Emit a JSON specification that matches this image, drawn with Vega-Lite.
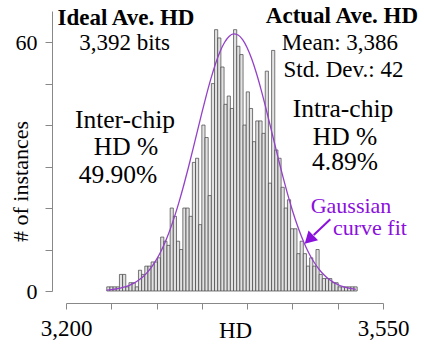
{
  "$schema": "https://vega.github.io/schema/vega-lite/v6.json",
  "width": 317,
  "height": 280,
  "autosize": {"type": "none"},
  "padding": {"left": 66, "top": 11, "right": 41, "bottom": 54},
  "background": "white",
  "config": {"view": {"stroke": null}, "font": "Liberation Serif"},
  "datasets": {
    "bars": [
      {"hd_start": 3245, "hd_end": 3248.5, "count": 1},
      {"hd_start": 3248.5, "hd_end": 3252, "count": 1},
      {"hd_start": 3252, "hd_end": 3255.5, "count": 1},
      {"hd_start": 3255.5, "hd_end": 3259, "count": 1},
      {"hd_start": 3259, "hd_end": 3262.5, "count": 4},
      {"hd_start": 3262.5, "hd_end": 3266, "count": 4},
      {"hd_start": 3266, "hd_end": 3269.5, "count": 1},
      {"hd_start": 3269.5, "hd_end": 3273, "count": 2},
      {"hd_start": 3273, "hd_end": 3276.5, "count": 2},
      {"hd_start": 3276.5, "hd_end": 3280, "count": 1},
      {"hd_start": 3280, "hd_end": 3283.5, "count": 5},
      {"hd_start": 3283.5, "hd_end": 3287, "count": 4},
      {"hd_start": 3287, "hd_end": 3290.5, "count": 6},
      {"hd_start": 3290.5, "hd_end": 3294, "count": 6},
      {"hd_start": 3294, "hd_end": 3297.5, "count": 7},
      {"hd_start": 3297.5, "hd_end": 3301, "count": 7},
      {"hd_start": 3301, "hd_end": 3304.5, "count": 8},
      {"hd_start": 3304.5, "hd_end": 3308, "count": 13},
      {"hd_start": 3308, "hd_end": 3311.5, "count": 12},
      {"hd_start": 3311.5, "hd_end": 3315, "count": 11},
      {"hd_start": 3315, "hd_end": 3318.5, "count": 20},
      {"hd_start": 3318.5, "hd_end": 3322, "count": 18},
      {"hd_start": 3322, "hd_end": 3325.5, "count": 12},
      {"hd_start": 3325.5, "hd_end": 3329, "count": 10},
      {"hd_start": 3329, "hd_end": 3332.5, "count": 20},
      {"hd_start": 3332.5, "hd_end": 3336, "count": 20},
      {"hd_start": 3336, "hd_end": 3339.5, "count": 18},
      {"hd_start": 3339.5, "hd_end": 3343, "count": 31},
      {"hd_start": 3343, "hd_end": 3346.5, "count": 32},
      {"hd_start": 3346.5, "hd_end": 3350, "count": 16},
      {"hd_start": 3350, "hd_end": 3353.5, "count": 40},
      {"hd_start": 3353.5, "hd_end": 3357, "count": 37},
      {"hd_start": 3357, "hd_end": 3360.5, "count": 23},
      {"hd_start": 3360.5, "hd_end": 3364, "count": 50},
      {"hd_start": 3364, "hd_end": 3367.5, "count": 63},
      {"hd_start": 3367.5, "hd_end": 3371, "count": 61},
      {"hd_start": 3371, "hd_end": 3374.5, "count": 54},
      {"hd_start": 3374.5, "hd_end": 3378, "count": 45},
      {"hd_start": 3378, "hd_end": 3381.5, "count": 47},
      {"hd_start": 3381.5, "hd_end": 3385, "count": 44},
      {"hd_start": 3385, "hd_end": 3388.5, "count": 63},
      {"hd_start": 3388.5, "hd_end": 3392, "count": 59},
      {"hd_start": 3392, "hd_end": 3395.5, "count": 57},
      {"hd_start": 3395.5, "hd_end": 3399, "count": 40},
      {"hd_start": 3399, "hd_end": 3402.5, "count": 48},
      {"hd_start": 3402.5, "hd_end": 3406, "count": 44},
      {"hd_start": 3406, "hd_end": 3409.5, "count": 36},
      {"hd_start": 3409.5, "hd_end": 3413, "count": 41},
      {"hd_start": 3413, "hd_end": 3416.5, "count": 41},
      {"hd_start": 3416.5, "hd_end": 3420, "count": 38},
      {"hd_start": 3420, "hd_end": 3423.5, "count": 53},
      {"hd_start": 3423.5, "hd_end": 3427, "count": 26},
      {"hd_start": 3427, "hd_end": 3430.5, "count": 58},
      {"hd_start": 3430.5, "hd_end": 3434, "count": 34},
      {"hd_start": 3434, "hd_end": 3437.5, "count": 32},
      {"hd_start": 3437.5, "hd_end": 3441, "count": 25},
      {"hd_start": 3441, "hd_end": 3444.5, "count": 20},
      {"hd_start": 3444.5, "hd_end": 3448, "count": 22},
      {"hd_start": 3448, "hd_end": 3451.5, "count": 15},
      {"hd_start": 3451.5, "hd_end": 3455, "count": 15},
      {"hd_start": 3455, "hd_end": 3458.5, "count": 9},
      {"hd_start": 3458.5, "hd_end": 3462, "count": 12},
      {"hd_start": 3462, "hd_end": 3465.5, "count": 9},
      {"hd_start": 3465.5, "hd_end": 3469, "count": 6},
      {"hd_start": 3469, "hd_end": 3472.5, "count": 8},
      {"hd_start": 3472.5, "hd_end": 3476, "count": 6},
      {"hd_start": 3476, "hd_end": 3479.5, "count": 10},
      {"hd_start": 3479.5, "hd_end": 3483, "count": 4},
      {"hd_start": 3483, "hd_end": 3486.5, "count": 3},
      {"hd_start": 3486.5, "hd_end": 3490, "count": 3},
      {"hd_start": 3490, "hd_end": 3493.5, "count": 3},
      {"hd_start": 3493.5, "hd_end": 3497, "count": 2},
      {"hd_start": 3497, "hd_end": 3500.5, "count": 2},
      {"hd_start": 3500.5, "hd_end": 3504, "count": 1},
      {"hd_start": 3504, "hd_end": 3507.5, "count": 1},
      {"hd_start": 3507.5, "hd_end": 3511, "count": 1},
      {"hd_start": 3511, "hd_end": 3514.5, "count": 1},
      {"hd_start": 3514.5, "hd_end": 3518, "count": 1},
      {"hd_start": 3518, "hd_end": 3521.5, "count": 1}
    ],
    "curve": [
      {"hd": 3245, "fit": 0.22}, {"hd": 3250, "fit": 0.33}, {"hd": 3255, "fit": 0.48},
      {"hd": 3260, "fit": 0.69}, {"hd": 3265, "fit": 0.98}, {"hd": 3270, "fit": 1.37},
      {"hd": 3275, "fit": 1.89}, {"hd": 3280, "fit": 2.57}, {"hd": 3285, "fit": 3.44},
      {"hd": 3290, "fit": 4.55}, {"hd": 3295, "fit": 5.93}, {"hd": 3300, "fit": 7.62},
      {"hd": 3305, "fit": 9.65}, {"hd": 3310, "fit": 12.06}, {"hd": 3315, "fit": 14.86},
      {"hd": 3320, "fit": 18.04}, {"hd": 3325, "fit": 21.6}, {"hd": 3330, "fit": 25.49},
      {"hd": 3335, "fit": 29.66}, {"hd": 3340, "fit": 34.03}, {"hd": 3345, "fit": 38.5},
      {"hd": 3350, "fit": 42.94}, {"hd": 3355, "fit": 47.22}, {"hd": 3360, "fit": 51.19},
      {"hd": 3365, "fit": 54.72}, {"hd": 3370, "fit": 57.66}, {"hd": 3375, "fit": 59.91},
      {"hd": 3380, "fit": 61.37}, {"hd": 3385, "fit": 61.98}, {"hd": 3390, "fit": 61.72},
      {"hd": 3395, "fit": 60.59}, {"hd": 3400, "fit": 58.65}, {"hd": 3405, "fit": 55.97},
      {"hd": 3410, "fit": 52.66}, {"hd": 3415, "fit": 48.85}, {"hd": 3420, "fit": 44.68},
      {"hd": 3425, "fit": 40.29}, {"hd": 3430, "fit": 35.82}, {"hd": 3435, "fit": 31.39},
      {"hd": 3440, "fit": 27.13}, {"hd": 3445, "fit": 23.11}, {"hd": 3450, "fit": 19.42},
      {"hd": 3455, "fit": 16.08}, {"hd": 3460, "fit": 13.13}, {"hd": 3465, "fit": 10.57},
      {"hd": 3470, "fit": 8.39}, {"hd": 3475, "fit": 6.57}, {"hd": 3480, "fit": 5.07},
      {"hd": 3485, "fit": 3.85}, {"hd": 3490, "fit": 2.89}, {"hd": 3495, "fit": 2.14},
      {"hd": 3500, "fit": 1.56}, {"hd": 3505, "fit": 1.12}, {"hd": 3510, "fit": 0.79},
      {"hd": 3515, "fit": 0.55}, {"hd": 3520, "fit": 0.38}
    ],
    "arrow": [
      {"hd": 3491.8, "count": 17.3, "hd_end": 3473.5, "count_end": 13.5, "tip_hd": 3468.3, "tip_count": 12.4}
    ],
    "labels": [
      {"role": "head", "hd": 3266.2, "count": 64.1, "text": "Ideal Ave. HD"},
      {"role": "head", "hd": 3504.7, "count": 64.6, "text": "Actual Ave. HD"},
      {"role": "stat", "hd": 3264.6, "count": 58.1, "text": "3,392 bits"},
      {"role": "stat", "hd": 3502.5, "count": 58.1, "text": "Mean: 3,386"},
      {"role": "stat", "hd": 3506.4, "count": 51.7, "text": "Std. Dev.: 42"},
      {"role": "pct", "hd": 3265.1, "count": 39.3, "text": "Inter-chip"},
      {"role": "pct", "hd": 3266.2, "count": 32.8, "text": "HD %"},
      {"role": "pct", "hd": 3257.4, "count": 26.0, "text": "49.90%"},
      {"role": "pct", "hd": 3505.8, "count": 41.9, "text": "Intra-chip"},
      {"role": "pct", "hd": 3508.0, "count": 35.2, "text": "HD %"},
      {"role": "pct", "hd": 3508.0, "count": 29.2, "text": "4.89%"},
      {"role": "fit", "hd": 3514.7, "count": 18.8, "text": "Gaussian"},
      {"role": "fit", "hd": 3535.6, "count": 13.5, "text": "curve fit"}
    ]
  },
  "layer": [
    {
      "data": {"name": "bars"},
      "mark": {"type": "bar", "fill": "#e2e2e2", "stroke": "#404040", "strokeWidth": 0.7},
      "encoding": {
        "x": {
          "field": "hd_start", "type": "quantitative",
          "scale": {"domain": [3200, 3550], "nice": false, "zero": false},
          "axis": {
            "title": "HD",
            "values": [3200, 3250, 3300, 3350, 3400, 3450, 3500, 3550],
            "labelExpr": "datum.value == 3200 || datum.value == 3550 ? format(datum.value, ',') : ''",
            "offset": 12, "grid": false,
            "domainColor": "#888888", "tickColor": "#888888", "tickSize": 6,
            "labelFont": "Liberation Serif", "labelFontSize": 23, "labelColor": "black",
            "labelBaseline": "alphabetic", "labelPadding": 26,
            "labelFlush": false, "labelOverlap": false,
            "titleFont": "Liberation Serif", "titleFontSize": 23, "titleFontWeight": "normal",
            "titleColor": "black", "titleX": 169, "titleY": 34, "titleBaseline": "alphabetic"
          }
        },
        "x2": {"field": "hd_end"},
        "y": {
          "field": "count", "type": "quantitative",
          "scale": {"domain": [0, 67.5], "nice": false},
          "axis": {
            "title": "# of instances",
            "values": [0, 10, 20, 30, 40, 50, 60],
            "labelExpr": "datum.value == 0 || datum.value == 60 ? datum.label : ''",
            "offset": 14, "grid": false,
            "domainColor": "#888888", "tickColor": "#888888", "tickSize": 7,
            "labelFont": "Liberation Serif", "labelFontSize": 22, "labelColor": "black",
            "labelPadding": 8, "labelOverlap": false,
            "titleFont": "Liberation Serif", "titleFontSize": 22, "titleFontWeight": "normal",
            "titleColor": "black", "titleX": -25, "titleY": 170, "titleBaseline": "alphabetic",
            "titleAlign": "center"
          }
        },
        "y2": {"datum": 0}
      }
    },
    {
      "data": {"name": "curve"},
      "mark": {"type": "line", "color": "#9440c8", "strokeWidth": 1.3, "interpolate": "monotone"},
      "encoding": {
        "x": {"field": "hd", "type": "quantitative"},
        "y": {"field": "fit", "type": "quantitative"}
      }
    },
    {
      "data": {"name": "arrow"},
      "mark": {"type": "rule", "color": "#8a10dc", "strokeWidth": 2},
      "encoding": {
        "x": {"field": "hd", "type": "quantitative"},
        "y": {"field": "count", "type": "quantitative"},
        "x2": {"field": "hd_end"},
        "y2": {"field": "count_end"}
      }
    },
    {
      "data": {"name": "arrow"},
      "mark": {"type": "point", "shape": "triangle-up", "filled": true, "color": "#8a10dc", "opacity": 1, "size": 190, "angle": 226},
      "encoding": {
        "x": {"field": "tip_hd", "type": "quantitative"},
        "y": {"field": "tip_count", "type": "quantitative"}
      }
    },
    {
      "data": {"name": "labels"},
      "transform": [{"filter": "datum.role == 'head'"}],
      "mark": {"type": "text", "font": "Liberation Serif", "fontSize": 23, "fontWeight": "bold", "color": "black", "align": "center", "baseline": "alphabetic"},
      "encoding": {
        "x": {"field": "hd", "type": "quantitative"},
        "y": {"field": "count", "type": "quantitative"},
        "text": {"field": "text"}
      }
    },
    {
      "data": {"name": "labels"},
      "transform": [{"filter": "datum.role == 'stat'"}],
      "mark": {"type": "text", "font": "Liberation Serif", "fontSize": 23, "color": "black", "align": "center", "baseline": "alphabetic"},
      "encoding": {
        "x": {"field": "hd", "type": "quantitative"},
        "y": {"field": "count", "type": "quantitative"},
        "text": {"field": "text"}
      }
    },
    {
      "data": {"name": "labels"},
      "transform": [{"filter": "datum.role == 'pct'"}],
      "mark": {"type": "text", "font": "Liberation Serif", "fontSize": 25.5, "color": "black", "align": "center", "baseline": "alphabetic"},
      "encoding": {
        "x": {"field": "hd", "type": "quantitative"},
        "y": {"field": "count", "type": "quantitative"},
        "text": {"field": "text"}
      }
    },
    {
      "data": {"name": "labels"},
      "transform": [{"filter": "datum.role == 'fit'"}],
      "mark": {"type": "text", "font": "Liberation Serif", "fontSize": 22, "color": "#8a10dc", "align": "center", "baseline": "alphabetic"},
      "encoding": {
        "x": {"field": "hd", "type": "quantitative"},
        "y": {"field": "count", "type": "quantitative"},
        "text": {"field": "text"}
      }
    }
  ]
}
